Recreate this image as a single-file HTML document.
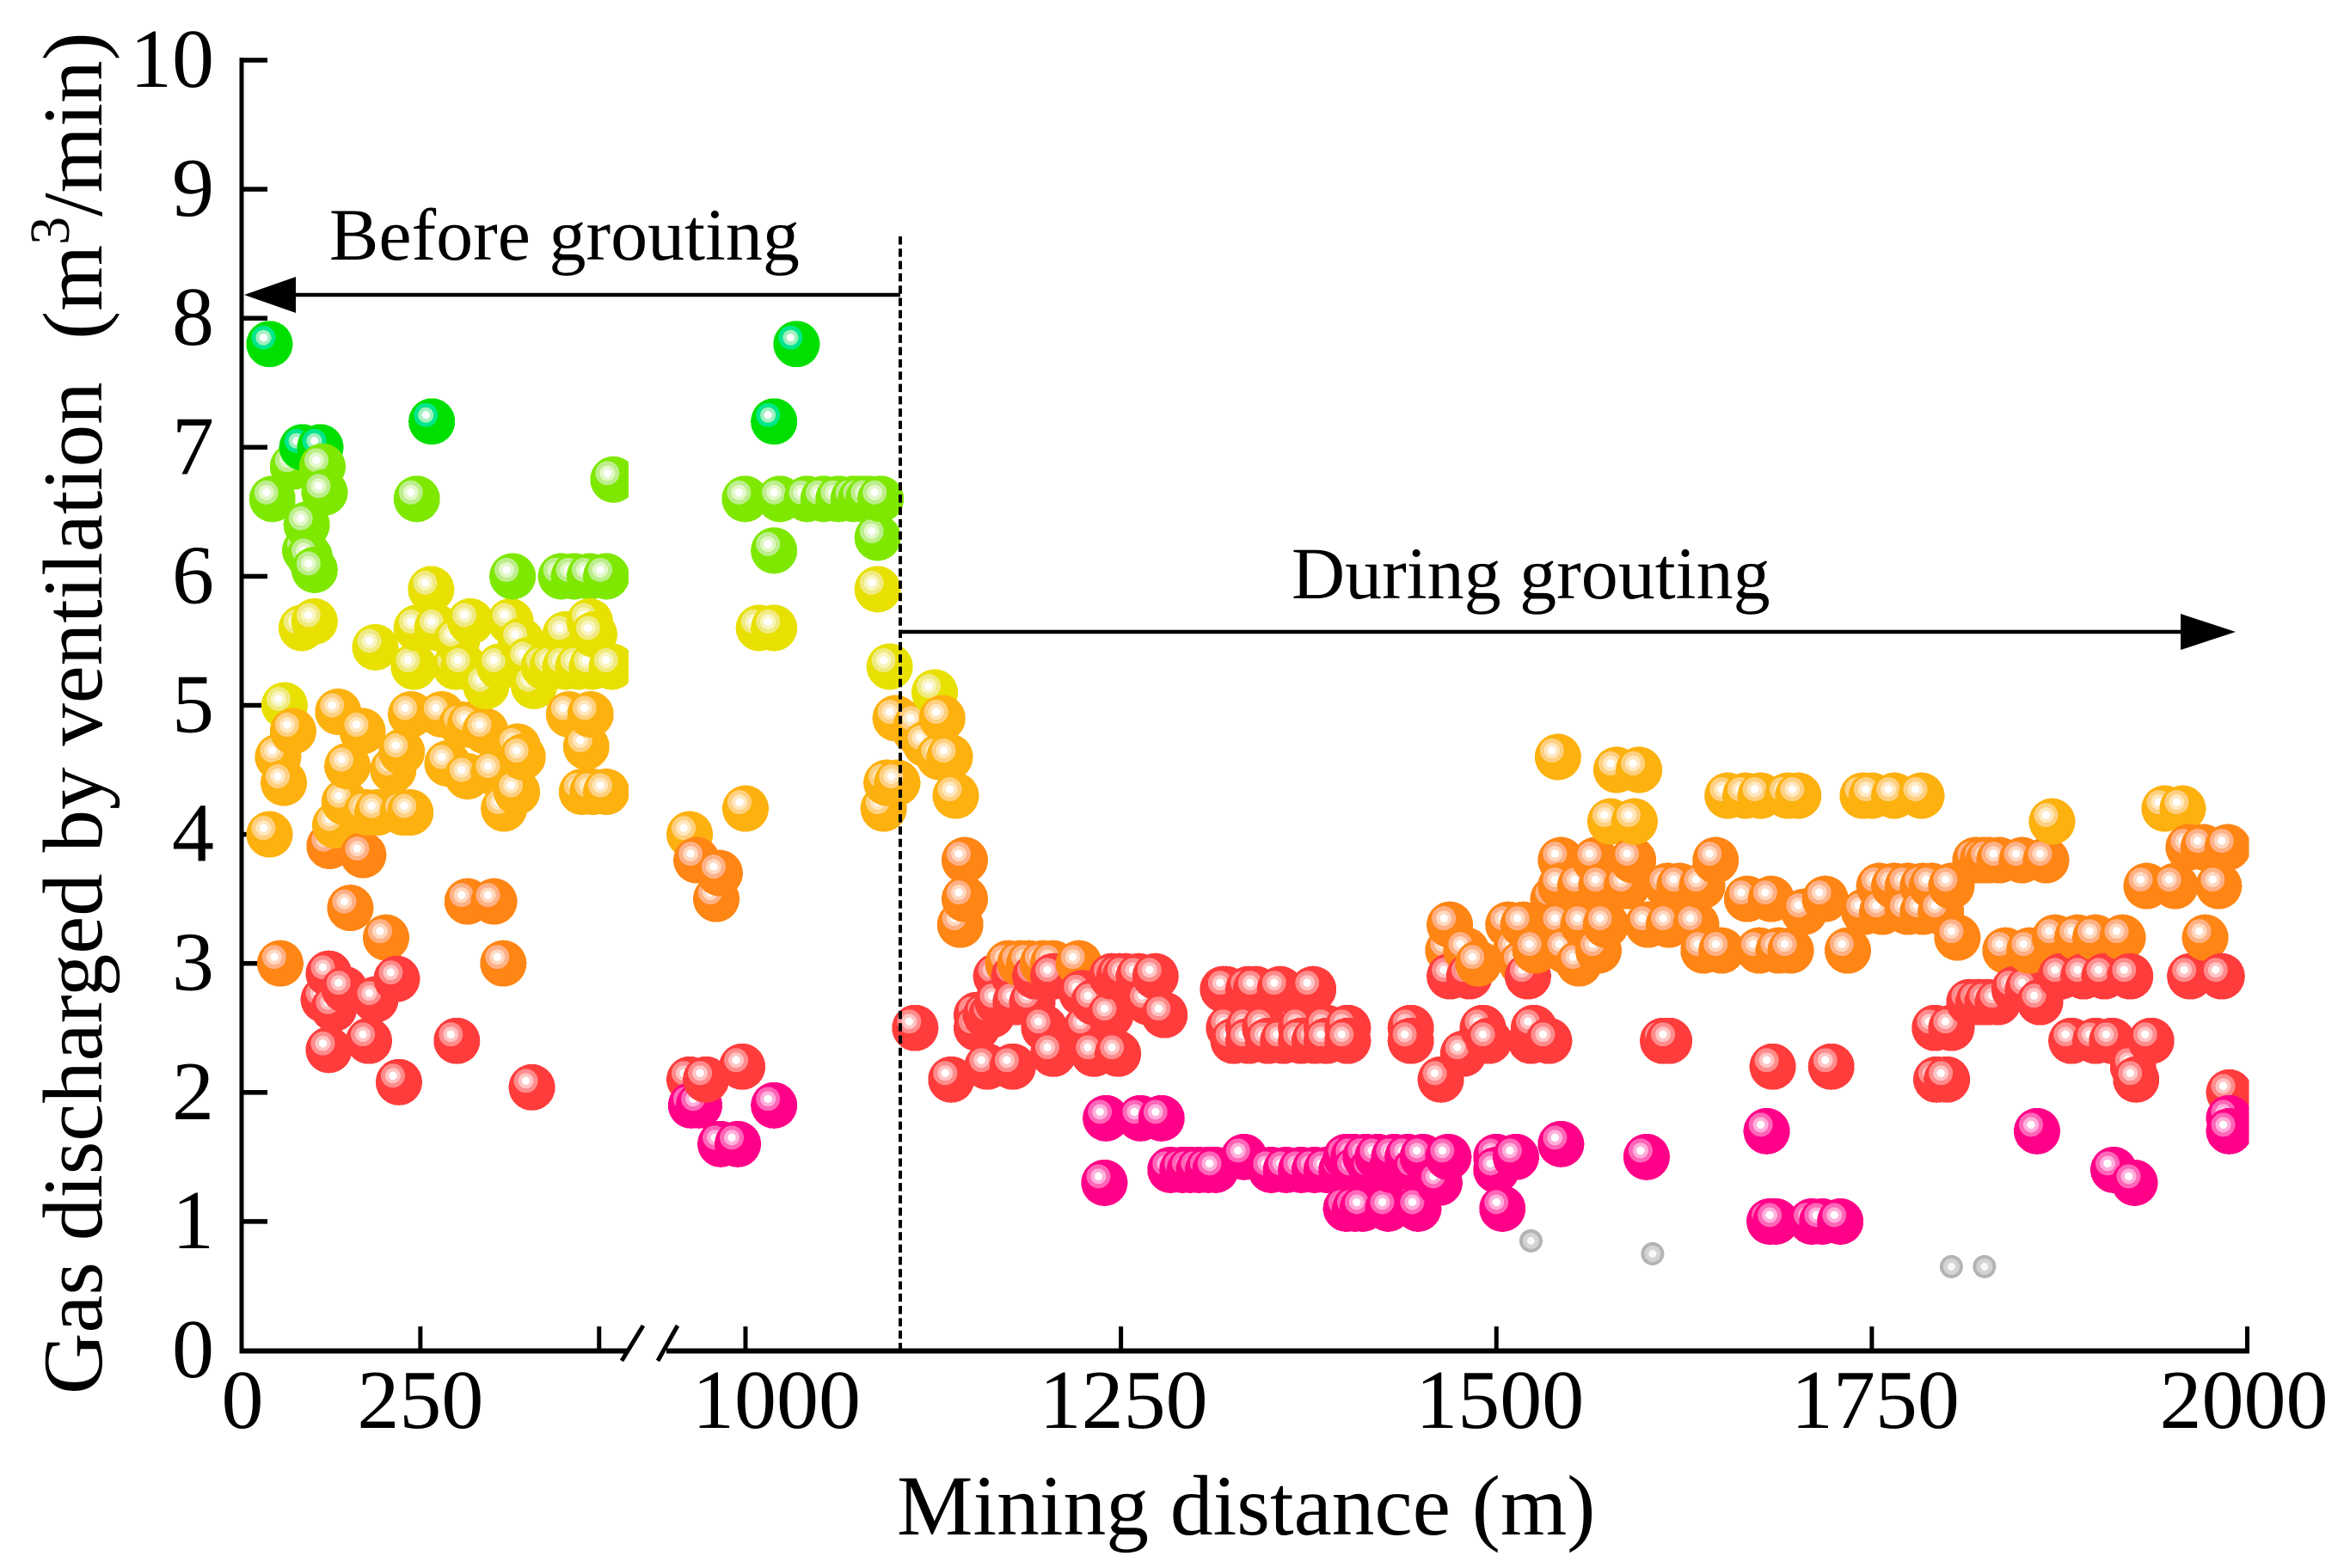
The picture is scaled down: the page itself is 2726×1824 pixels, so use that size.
<!DOCTYPE html>
<html lang="en">
<head>
<meta charset="utf-8">
<title>Gas discharged by ventilation vs mining distance</title>
<style>
  html, body { margin: 0; padding: 0; background: #fff; }
  svg { display: block; font-family: "Liberation Serif", serif; fill: #000; }
</style>
</head>
<body>
<svg id="chart" xmlns="http://www.w3.org/2000/svg" width="2726" height="1824" viewBox="0 0 2726 1824">
  <rect x="0" y="0" width="2726" height="1824" fill="#fff"/>
  <defs>
    <clipPath id="plot-clip">
      <rect x="284" y="60" width="447" height="1510"/>
      <rect x="770" y="60" width="1845.5" height="1510"/>
    </clipPath>
  </defs>
  <g id="axes">
    <rect x="278.5" y="67" width="5" height="1507.5"/>
    <rect x="278.5" y="1568.5" width="450.5" height="6"/>
    <rect x="775" y="1568.5" width="1841" height="6"/>
    <line x1="748" y1="1542" x2="723" y2="1583" stroke="#000" stroke-width="5"/>
    <line x1="788" y1="1542" x2="765" y2="1583" stroke="#000" stroke-width="5"/>
  </g>
  <g id="markers" clip-path="url(#plot-clip)" shape-rendering="crispEdges"></g>
  <g id="annotations">
    <line x1="1047" y1="275" x2="1047" y2="1570" stroke="#000" stroke-width="4" stroke-dasharray="9.5 4.8"/>
    <rect x="340" y="340.75" width="707" height="4.5"/>
    <polygon points="284,343 344,322 344,364"/>
    <rect x="1047" y="732.75" width="1495" height="4.5"/>
    <polygon points="2536,714 2600,735 2536,756"/>
    <text x="383" y="302" font-size="86">Before grouting</text>
    <text x="1502" y="696" font-size="86">During grouting</text>
  </g>
  <text x="1043" y="1785" font-size="99.5">Mining distance (m)</text>
  <text transform="translate(118,1622) rotate(-90)" font-size="99">Gas discharged by ventilation&#160;&#160;(m<tspan dy="-38" font-size="66">3</tspan><tspan dy="38">/min)</tspan></text>
</svg>
<script>
// Axis ticks
const yTicks = [0, 1, 2, 3, 4, 5, 6, 7, 8, 9, 10];
const xTicks = [0, 250, 500, 1000, 1250, 1500, 1750, 2000];
const xTickLabels = ["0", "250", "", "1000", "1250", "1500", "1750", "2000"];
const xLabelNudge = [1, 0, 0, 36, 3, 4, 4, -4];

// Gas level (m3/min) of each row of readings
const gasLevels = [
  7.8, 7.2, 7.0, 6.85, 6.75, 6.65, 6.6, 6.4, 6.3, 6.2, 6.15, 6.05, 6.0,
  5.9, 5.65, 5.6, 5.55, 5.5, 5.45, 5.35, 5.3, 5.15, 5.1, 5.0,
  4.95, 4.93, 4.9, 4.85, 4.8, 4.7, 4.68, 4.64, 4.6, 4.55, 4.53, 4.5, 4.48, 4.45, 4.4, 4.33, 4.3, 4.25, 4.2, 4.17, 4.1, 4.07, 4.0,
  3.91, 3.9, 3.84, 3.8, 3.7, 3.6, 3.5, 3.48, 3.43, 3.4, 3.3, 3.2, 3.1, 3.0,
  2.92, 2.9, 2.88, 2.8, 2.77, 2.72, 2.7, 2.65, 2.6, 2.5, 2.4, 2.33, 2.3, 2.2, 2.1, 2.08, 2.04, 2.0,
  1.9, 1.8, 1.7, 1.6, 1.5, 1.4, 1.3, 1.1, 1.0,
  0.85, 0.75, 0.65
];

// Mining distances (m) read at each gas level, same order as gasLevels
const distancesAtLevel = [
  [39, 1034], [266, 1019], [85, 110], [72, 113], [520], [116],
  [43, 245, 998, 1023, 1041, 1052, 1062, 1072, 1077, 1082, 1090],
  [91], [1088], [89, 1019], [95], [102], [379, 447, 465, 487, 510],
  [265, 1088], [102, 320, 376, 487], [84, 245, 274, 1009, 1019], [453, 493], [391, 301], [187], [401],
  [241, 299, 311, 361, 423, 435, 453, 471, 490, 518, 1096],
  [342, 409], [1126], [60],
  [135], [237, 280, 458, 488], [1100, 1131], [320, 308, 1114], [72, 169, 341, 1113], [1120], [386, 482], [224],
  [51, 1129, 1136, 393, 1541], [288], [148], [212, 1580, 1595], [353], [316], [59, 1094, 1101],
  [385, 476, 491, 510], [1140, 1654, 1666, 1676, 1694, 1701, 1744, 1750, 1765, 1783],
  [144], [367, 1000, 1092, 1945, 1957], [175, 190, 226, 236], [1870, 1576, 1592], [131], [39, 782],
  [123], [1987, 1971, 1961], [170],
  [809, 1146, 1543, 1566, 1591, 1646, 1819, 1824, 1828, 1835, 1850, 1866],
  [899],
  [1952, 1933, 1981, 1755, 1765, 1774, 1784, 1790, 1803, 1556, 1543, 1570, 1587, 1614, 1622, 1637],
  [886, 1146, 1538, 1683, 1667, 1719], [316, 353], [152],
  [1745, 1757, 1774, 1784, 1796, 1705],
  [1143, 1469, 1518, 1508, 1633, 1615, 1601, 1573, 1558, 1543],
  [202, 1972, 1807, 1872, 1899, 1917, 1887],
  [1480, 1468, 1526, 1513, 1734, 1688, 1675, 1650, 1638, 1696, 1855, 1839, 1568, 1546],
  [54, 366, 1175, 1183, 1189, 1198, 1205, 1222, 1488, 1517, 1555],
  [122],
  [1167, 1179, 1193, 1205, 1244, 1249, 1253, 1262, 1273, 1469, 1482, 1521, 1876, 1891, 1905, 1922, 1962, 1983],
  [217],
  [144, 1318, 1320, 1335, 1340, 1356, 1378, 1845, 1854],
  [1224], [115, 187],
  [1168, 1180, 1191, 1232, 1268, 1815, 1821, 1827, 1834, 1862],
  [129], [1154, 1160, 1164, 1243, 1279],
  [1113, 1154, 1199, 1227, 1322, 1335, 1346, 1370, 1387, 1401, 1443, 1491, 1525, 1803, 1792],
  [178, 301, 1325, 1335, 1348, 1358, 1370, 1379, 1387, 1401, 1443, 1495, 1523, 1535, 1611, 1615, 1883, 1899, 1910, 1936],
  [122], [1205, 1232, 1248, 1478],
  [1161, 1178, 987, 1684, 1723, 1924],
  [1137, 1463, 1800, 1793, 1926, 782, 846],
  [220], [406], [1988],
  [788, 819, 1019], [1240, 1263, 1277, 1988], [1680, 1860, 1988], [903, 970, 1543],
  [1332, 1400, 1405, 1413, 1421, 1432, 1441, 1451, 1468, 1500, 1513, 1600],
  [1283, 1291, 1296, 1302, 1308, 1313, 1350, 1360, 1370, 1379, 1387, 1397, 1406, 1417, 1430, 1446, 1500, 1911],
  [1239, 1462, 1925],
  [1400, 1406, 1411, 1428, 1448, 1504],
  [1682, 1686, 1710, 1717, 1729],
  [1523], [1604], [1803, 1825]
];

// Colour map: lower bound of each band and its sphere colours
const bandFloors = [7, 6, 5, 4, 3, 2, 1, 0];
const bandBody = ["#00E000", "#7FE800", "#E8E000", "#FDB10F", "#FF8514", "#FF3C3C", "#FF0088", "#B4B4B4"];
const bandRing = ["#00E68A", "#BDEE8C", "#F0EA80", "#FFD080", "#FFB085", "#FF8C8C", "#FF66B8", "#D4D4D4"];
const bandGlow = ["#A0F0C0", "#E2F8C8", "#F8F5C0", "#FFE8C0", "#FFD8C0", "#FFC4C4", "#FFB0DC", "#F8F8F8"];

const SVG_NS = "http://www.w3.org/2000/svg";
const svg = document.getElementById("chart");
const axesGroup = document.getElementById("axes");
const markersGroup = document.getElementById("markers");

// Broken x axis: linear up to the break, compressed across it, linear after 1000
function xScale(v) {
  if (v <= 540) return 281 + v * 0.8315;
  if (v <= 1000) return 730 + (v - 540) * 0.2978;
  return 867 + (v - 1000) * 1.7465;
}
function yScale(v) {
  return 1571 - v * 150.1;
}
function bandIndex(g) {
  for (let i = 0; i < bandFloors.length; i++) {
    if (g >= bandFloors[i]) return i;
  }
  return bandFloors.length - 1;
}
function makeCircle(cx, cy, r, fill) {
  const c = document.createElementNS(SVG_NS, "circle");
  c.setAttribute("cx", cx);
  c.setAttribute("cy", cy);
  c.setAttribute("r", r);
  c.setAttribute("fill", fill);
  return c;
}

// Y ticks and labels
yTicks.forEach(function (t) {
  const tick = document.createElementNS(SVG_NS, "rect");
  tick.setAttribute("x", 281);
  tick.setAttribute("y", yScale(t) - 2.75);
  tick.setAttribute("width", 30);
  tick.setAttribute("height", 5.5);
  
  
  if (t > 0) axesGroup.appendChild(tick);
  const label = document.createElementNS(SVG_NS, "text");
  label.setAttribute("x", 249);
  label.setAttribute("y", yScale(t) + 31);
  label.setAttribute("font-size", 98);
  label.setAttribute("text-anchor", "end");
  
  
  label.textContent = String(t);
  axesGroup.appendChild(label);
});

// X ticks and labels
xTicks.forEach(function (t, i) {
  const tick = document.createElementNS(SVG_NS, "rect");
  tick.setAttribute("x", xScale(t) - 2.5);
  tick.setAttribute("y", 1543);
  tick.setAttribute("width", 5);
  tick.setAttribute("height", 28);
  
  
  if (t > 0) axesGroup.appendChild(tick);
  if (xTickLabels[i]) {
    const label = document.createElementNS(SVG_NS, "text");
    label.setAttribute("x", xScale(t) + xLabelNudge[i]);
    label.setAttribute("y", 1661);
    label.setAttribute("font-size", 98);
    label.setAttribute("text-anchor", "middle");
    
    
    label.textContent = xTickLabels[i];
    axesGroup.appendChild(label);
  }
});

// Flatten readings, then draw in order of advancing mining distance
const readingsX = [];
const readingsY = [];
gasLevels.forEach(function (g, i) {
  distancesAtLevel[i].forEach(function (d) {
    readingsX.push(d);
    readingsY.push(g);
  });
});
const drawOrder = readingsX.map(function (_, i) { return i; });
drawOrder.sort(function (a, b) { return readingsX[a] - readingsX[b] || a - b; });

drawOrder.forEach(function (i) {
  const cx = xScale(readingsX[i]);
  const cy = yScale(readingsY[i]);
  const band = bandIndex(readingsY[i]);
  const isSmall = readingsY[i] < 1;
  const g = document.createElementNS(SVG_NS, "g");
  
  
  if (isSmall) {
    g.appendChild(makeCircle(cx, cy, 13.5, bandBody[band]));
    g.appendChild(makeCircle(cx, cy, 9.5, bandRing[band]));
    g.appendChild(makeCircle(cx, cy, 4.5, bandGlow[band]));
  } else {
    g.appendChild(makeCircle(cx, cy, 27, bandBody[band]));
    g.appendChild(makeCircle(cx - 7, cy - 7.5, 14, bandRing[band]));
    g.appendChild(makeCircle(cx - 7, cy - 7.5, 9, bandGlow[band]));
    g.appendChild(makeCircle(cx - 7, cy - 7.5, 4.7, "#FFFFFF"));
  }
  markersGroup.appendChild(g);
});
</script>
</body>
</html>
